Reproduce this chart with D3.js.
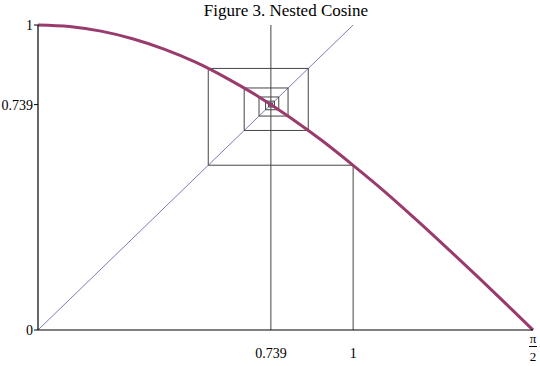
<!DOCTYPE html>
<html>
<head>
<meta charset="utf-8">
<script src="https://cdn.jsdelivr.net/npm/d3@7"></script>
<style>
html,body{margin:0;padding:0;background:#fff;}
text{font-family:"Liberation Serif","DejaVu Serif",serif;}
</style>
</head>
<body>
<svg id="chart" width="540" height="366"></svg>
<script>
const title = "Figure 3. Nested Cosine";
// sampled curve y = cos x (read values)
const curveX = [0, 0.1, 0.2, 0.3, 0.4, 0.5, 0.6, 0.7, 0.8, 0.9, 1.0, 1.1, 1.2, 1.3, 1.4, 1.5, 1.5708];
const curveY = [1, 0.995, 0.980, 0.955, 0.921, 0.878, 0.825, 0.765, 0.697, 0.622, 0.540, 0.454, 0.362, 0.267, 0.170, 0.071, 0];
// successive iterates of the nested cosine, starting at 1
const iterates = [1, 0.5403, 0.8576, 0.6543, 0.7935, 0.7014, 0.7640, 0.7221, 0.7504, 0.7314, 0.7442, 0.7356, 0.7414, 0.7375, 0.7401, 0.7384, 0.7396, 0.7388];
const fixedPoint = 0.739;
const xTickVals = [0.739, 1];
const xTickLabels = ["0.739", "1"];
const yTickVals = [0, 0.739, 1];
const yTickLabels = ["0", "0.739", "1"];
const xMax = Math.PI / 2;

const svg = d3.select("#chart");
const x = d3.scaleLinear().domain([0, xMax]).range([38, 533]);
const y = d3.scaleLinear().domain([0, 1]).range([330, 25]);
const serif = "'Liberation Serif', 'DejaVu Serif', serif";

// title
svg.append("text").attr("x", 286).attr("y", 16).attr("text-anchor", "middle")
  .attr("font-family", serif).attr("font-size", 17).attr("fill", "#000").text(title);

// diagonal y = x
svg.append("line").attr("x1", x(0)).attr("y1", y(0)).attr("x2", x(1)).attr("y2", y(1))
  .attr("stroke", "#7c7ab8").attr("stroke-width", 1);

// vertical line at fixed point
svg.append("line").attr("x1", x(fixedPoint)).attr("x2", x(fixedPoint))
  .attr("y1", y(0)).attr("y2", y(1)).attr("stroke", "#444").attr("stroke-width", 1);

// cobweb
const web = [[iterates[0], 0]];
for (let i = 0; i < iterates.length - 1; i++) {
  web.push([iterates[i], iterates[i + 1]]);
  web.push([iterates[i + 1], iterates[i + 1]]);
}
svg.append("path").datum(web)
  .attr("d", d3.line().x(d => x(d[0])).y(d => y(d[1])))
  .attr("fill", "none").attr("stroke", "#444").attr("stroke-width", 1);

// cosine curve
const pts = curveX.map((v, i) => [v, curveY[i]]);
svg.append("path").datum(pts)
  .attr("d", d3.line().x(d => x(d[0])).y(d => y(d[1])).curve(d3.curveMonotoneX))
  .attr("fill", "none").attr("stroke", "#993b6c").attr("stroke-width", 3);

// axes
svg.append("line").attr("x1", x(0)).attr("x2", x(xMax)).attr("y1", y(0)).attr("y2", y(0))
  .attr("stroke", "#000").attr("stroke-width", 1.2);
svg.append("line").attr("x1", x(0)).attr("x2", x(0)).attr("y1", y(0)).attr("y2", y(1))
  .attr("stroke", "#000").attr("stroke-width", 1.2);

// y ticks
yTickVals.forEach((v, i) => {
  svg.append("line").attr("x1", x(0) - 4).attr("x2", x(0)).attr("y1", y(v)).attr("y2", y(v))
    .attr("stroke", "#000").attr("stroke-width", 1);
  svg.append("text").attr("x", x(0) - 5).attr("y", y(v)).attr("dy", "0.35em")
    .attr("text-anchor", "end").attr("font-family", serif).attr("font-size", 14).text(yTickLabels[i]);
});

// x ticks
xTickVals.forEach((v, i) => {
  svg.append("text").attr("x", x(v)).attr("y", 358).attr("text-anchor", "middle")
    .attr("font-family", serif).attr("font-size", 14).text(xTickLabels[i]);
});
// pi/2 label as fraction
const px = x(xMax);
svg.append("text").attr("x", px).attr("y", 343).attr("text-anchor", "middle")
  .attr("font-family", serif).attr("font-size", 13).text("π");
svg.append("line").attr("x1", px - 4).attr("x2", px + 4).attr("y1", 346.5).attr("y2", 346.5)
  .attr("stroke", "#000").attr("stroke-width", 1);
svg.append("text").attr("x", px).attr("y", 361).attr("text-anchor", "middle")
  .attr("font-family", serif).attr("font-size", 13).text("2");
</script>
</body>
</html>
